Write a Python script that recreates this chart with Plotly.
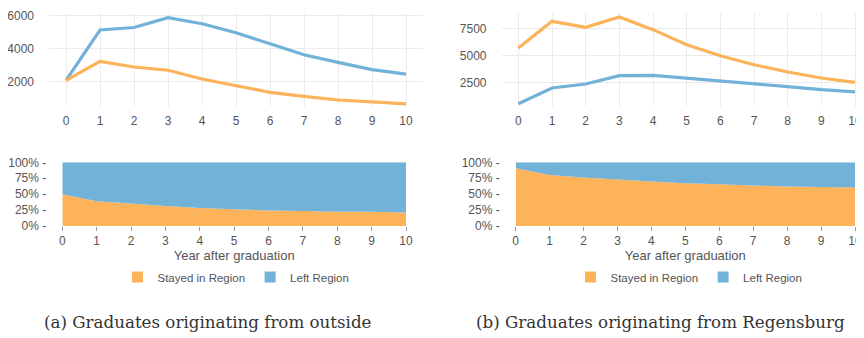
import plotly.graph_objects as go

years = [0, 1, 2, 3, 4, 5, 6, 7, 8, 9, 10]

# (a) Graduates originating from outside
outside_stayed = [2100, 3250, 2910, 2710, 2180, 1780, 1375, 1130, 910, 790, 670]
outside_left = [2100, 5150, 5300, 5900, 5530, 4980, 4320, 3650, 3190, 2750, 2480]

# (b) Graduates originating from Regensburg
regensburg_stayed = [5740, 8210, 7660, 8610, 7440, 6050, 5030, 4190, 3520, 2960, 2560]
regensburg_left = [580, 2040, 2410, 3180, 3210, 2960, 2660, 2410, 2160, 1880, 1670]

series_names = ["Stayed in Region", "Left Region"]
captions = ["(a) Graduates originating from outside",
            "(b) Graduates originating from Regensburg"]
x_title = "Year after graduation"
pct_ticks = [0, 25, 50, 75, 100]
pct_labels = ["0% -", "25% -", "50% -", "75% -", "100% -"]

ORANGE = "#fcb35a"
BLUE = "#72b2d8"

# The page body has an 8px margin, so the figure is drawn 8px in from the
# window's top-left corner; positions below are given in window pixels.
OFF = 8
W, H = 864 - OFF, 338 - OFF

fig = go.Figure()

def fx(px):
    return (px - OFF) / W

def fy(px):
    return 1 - (px - OFF) / H

# ---- top line charts
for i, (stay, left) in enumerate([(outside_stayed, outside_left),
                                  (regensburg_stayed, regensburg_left)]):
    xa = "x" if i == 0 else "x2"
    ya = "y" if i == 0 else "y2"
    fig.add_trace(go.Scatter(x=years, y=left, mode="lines", xaxis=xa, yaxis=ya,
                             line=dict(color=BLUE, width=3.2), showlegend=False,
                             name=series_names[1]))
    fig.add_trace(go.Scatter(x=years, y=stay, mode="lines", xaxis=xa, yaxis=ya,
                             line=dict(color=ORANGE, width=3.2), showlegend=False,
                             name=series_names[0]))

# ---- bottom stacked percentage area charts
for i, (stay, left) in enumerate([(outside_stayed, outside_left),
                                  (regensburg_stayed, regensburg_left)]):
    xa = "x3" if i == 0 else "x4"
    ya = "y3" if i == 0 else "y4"
    sg = "a%d" % i
    fig.add_trace(go.Scatter(x=years, y=stay, mode="none", xaxis=xa, yaxis=ya,
                             stackgroup=sg, groupnorm="percent",
                             fillcolor=ORANGE, showlegend=False, name=series_names[0]))
    fig.add_trace(go.Scatter(x=years, y=left, mode="none", xaxis=xa, yaxis=ya,
                             stackgroup=sg, fillcolor=BLUE, showlegend=False,
                             name=series_names[1]))
    lg = "legend" if i == 0 else "legend2"
    for name, col in zip(series_names, [ORANGE, BLUE]):
        fig.add_trace(go.Scatter(x=[None], y=[None], mode="markers", xaxis=xa, yaxis=ya,
                                 marker=dict(symbol="square", size=11, color=col),
                                 name=name, legend=lg, showlegend=True))

tick_font = dict(family="Liberation Sans, Arial, sans-serif", size=12, color="#555")
grid = "#ebebeb"

top_x = dict(showgrid=True, gridcolor=grid, zeroline=False, showline=False,
             tickmode="array", tickvals=years, tickfont=tick_font,
             ticks="", ticklabelstandoff=6, automargin=False,
             ticklabeloverflow="allow")
top_y = dict(showgrid=True, gridcolor=grid, zeroline=False, showline=False,
             tickfont=tick_font, ticks="", ticklabelstandoff=14, automargin=False,
             ticklabeloverflow="allow")

bot_x = dict(showgrid=False, zeroline=False, showline=False, range=[0, 10],
             tickmode="array", tickvals=years, tickfont=tick_font,
             ticks="outside", ticklen=4, tickcolor="#999", tickwidth=1,
             automargin=False, ticklabeloverflow="allow",
             title=dict(text=x_title, standoff=2,
                        font=dict(family="Liberation Sans Narrow, Arial Narrow, sans-serif",
                                  size=13, color="#555")))
bot_y = dict(showgrid=False, zeroline=False, showline=False, range=[0, 100],
             tickmode="array", tickvals=pct_ticks, ticktext=pct_labels,
             tickfont=tick_font, ticks="", ticklabelstandoff=15, automargin=False,
             ticklabeloverflow="allow")

leg_font = dict(family="Liberation Sans, Arial, sans-serif", size=11.5, color="#555")
cap_font = dict(family="DejaVu Serif, serif", size=16.7, color="#333")

TOP_T, TOP_B = 13, 106

fig.update_layout(
    width=W, height=H, margin=dict(l=0, r=0, t=0, b=0, autoexpand=False),
    paper_bgcolor="white", plot_bgcolor="white",
    xaxis=dict(top_x, domain=[fx(49), fx(423)], range=[-0.5, 10.5], anchor="y"),
    yaxis=dict(top_y, domain=[fy(TOP_B), fy(TOP_T)], range=[545, 6180],
               tickvals=[2000, 4000, 6000], anchor="x"),
    xaxis2=dict(top_x, domain=[fx(501.5), 1.0], range=[-0.5, 10.267], anchor="y2"),
    yaxis2=dict(top_y, domain=[fy(TOP_B), fy(TOP_T)], range=[370, 8980],
                tickvals=[2500, 5000, 7500], anchor="x2"),
    xaxis3=dict(bot_x, domain=[fx(62.3), fx(406)], anchor="y3"),
    yaxis3=dict(bot_y, domain=[fy(226), fy(162.3)], anchor="x3"),
    xaxis4=dict(bot_x, domain=[fx(515.7), fx(855)], anchor="y4"),
    yaxis4=dict(bot_y, domain=[fy(226), fy(162.3)], anchor="x4"),
    legend=dict(orientation="h", x=fx(236), y=fy(277), xanchor="center", yanchor="middle",
                font=leg_font, itemwidth=30, bgcolor="rgba(0,0,0,0)",
                traceorder="normal"),
    legend2=dict(orientation="h", x=fx(689), y=fy(277), xanchor="center", yanchor="middle",
                 font=leg_font, itemwidth=30, bgcolor="rgba(0,0,0,0)",
                 traceorder="normal"),
    annotations=[
        dict(text=captions[0], x=fx(207.5), y=fy(322), xref="paper", yref="paper",
             showarrow=False, xanchor="center", yanchor="middle", font=cap_font),
        dict(text=captions[1], x=fx(660), y=fy(322), xref="paper", yref="paper",
             showarrow=False, xanchor="center", yanchor="middle", font=cap_font),
    ],
)

fig.write_html("out.html")
